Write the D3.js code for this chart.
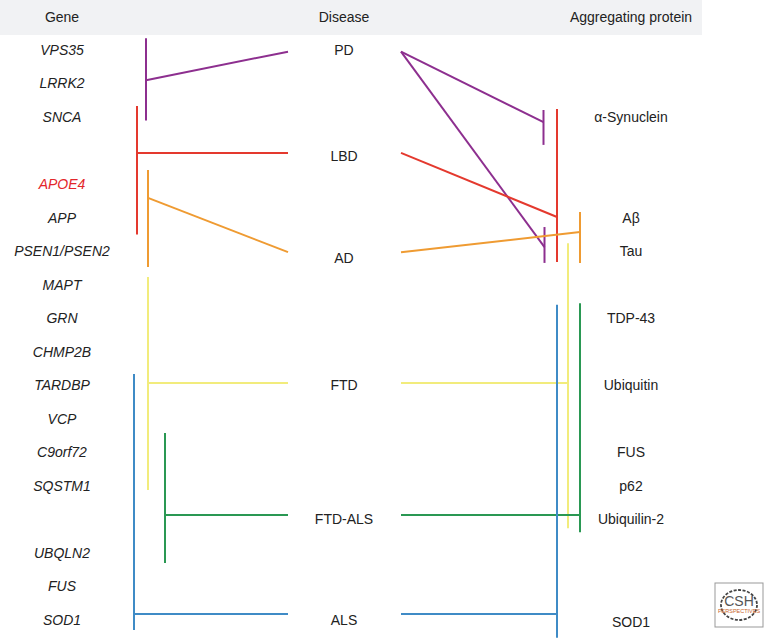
<!DOCTYPE html>
<html>
<head>
<meta charset="utf-8">
<script src="https://cdn.jsdelivr.net/npm/d3@7"></script>
<style>
  body { margin: 0; background: #fff; }
  text { font-family: "Liberation Sans", Arial, sans-serif; fill: #222; }
</style>
</head>
<body>
<div id="chart"></div>
<script>
// rows are in "gene row" units, 0 = VPS35 ... 17 = SOD1
var headers = ["Gene", "Disease", "Aggregating protein"]

var genes = ["VPS35", "LRRK2", "SNCA", "APOE4", "APP", "PSEN1/PSEN2", "MAPT", "GRN",
             "CHMP2B", "TARDBP", "VCP", "C9orf72", "SQSTM1", "UBQLN2", "FUS", "SOD1"]
var geneRows = [0, 1, 2, 4, 5, 6, 7, 8, 9, 10, 11, 12, 13, 15, 16, 17]
var riskGenes = ["APOE4"]

var diseases = ["PD", "LBD", "AD", "FTD", "FTD-ALS", "ALS"]
var diseaseRows = [0, 3.15, 6.2, 10, 14, 17]
var diseaseLinkRows = [0.05, 3.07, 6.03, 9.93, 13.87, 16.82]

var proteins = ["\u03b1-Synuclein", "A\u03b2", "Tau", "TDP-43", "Ubiquitin", "FUS", "p62", "Ubiquilin-2", "SOD1"]
var proteinRows = [2, 5, 6, 8, 10, 12, 13, 14, 17.05]

// gene brackets, one per disease: span of the bar and the row where the link leaves it
var geneSpans = [[-0.35, 2.1], [1.67, 5.5], [3.58, 6.47], [6.77, 13.12], [11.42, 15.3], [9.66, 17.3]]
var geneJoins = [0.9, 3.07, 4.41, 9.93, 13.87, 16.82]

// protein brackets: which disease, span of the bar, row where the link hits it
var protDisease = ["PD", "PD", "LBD", "AD", "FTD", "FTD-ALS", "ALS"]
var protSpans = [[1.79, 2.83], [5.28, 6.35], [1.76, 6.32], [4.83, 6.35], [5.76, 14.26], [7.55, 14.38], [7.6, 17.53]]
var protJoins = [2.15, 5.88, 4.98, 5.43, 9.93, 13.87, 16.82]

var w = 773
var h = 640

var colors = {
  "PD": "#8d2f8f",
  "LBD": "#e4392e",
  "AD": "#ef9b32",
  "FTD": "#f2ec7c",
  "FTD-ALS": "#2a9853",
  "ALS": "#3f8bc6"
}

// x lanes for the vertical bars
var geneLane = { "PD": 146, "LBD": 137, "AD": 148, "FTD": 148, "FTD-ALS": 165, "ALS": 134 }
var protLane = [543.5, 544.5, 557, 580, 568, 580, 557]
var colX = { gene: 62, disease: 344, protein: 631 }
var diseaseLeft = 288
var diseaseRight = 401

var y = d3.scaleLinear()
    .domain([0, 17])
    .range([50, 620])

var svg = d3.select("#chart")
            .append("svg")
            .attr("width", w)
            .attr("height", h)

// header band
svg.append("rect")
   .attr("x", 0)
   .attr("y", 0)
   .attr("width", 702)
   .attr("height", 35)
   .attr("fill", "#f1f2f4")

svg.selectAll("text.header")
   .data(headers)
   .enter()
   .append("text")
   .attr("class", "header")
   .attr("x", function(d, i) { return [colX.gene, colX.disease, colX.protein][i] })
   .attr("y", 22)
   .attr("text-anchor", "middle")
   .attr("font-size", "14px")
   .text(function(d) { return d })

var lines = svg.append("g")
               .attr("fill", "none")
               .attr("stroke-width", 2)

// Gene -> disease brackets
diseases.forEach(function(dis, i) {
  var g = lines.append("g").attr("stroke", colors[dis])
  var lx = geneLane[dis]
  g.append("line")
   .attr("x1", lx).attr("x2", lx)
   .attr("y1", y(geneSpans[i][0])).attr("y2", y(geneSpans[i][1]))
  g.append("line")
   .attr("x1", lx).attr("x2", diseaseLeft)
   .attr("y1", y(geneJoins[i])).attr("y2", y(diseaseLinkRows[i]))
})

// Disease -> protein brackets
protDisease.forEach(function(dis, i) {
  var g = lines.append("g").attr("stroke", colors[dis])
  var lx = protLane[i]
  var di = diseases.indexOf(dis)
  g.append("line")
   .attr("x1", lx).attr("x2", lx)
   .attr("y1", y(protSpans[i][0])).attr("y2", y(protSpans[i][1]))
  g.append("line")
   .attr("x1", diseaseRight).attr("x2", lx)
   .attr("y1", y(diseaseLinkRows[di])).attr("y2", y(protJoins[i]))
})

// Labels
svg.selectAll("text.gene")
   .data(genes)
   .enter()
   .append("text")
   .attr("class", "gene")
   .attr("x", colX.gene)
   .attr("y", function(d, i) { return y(geneRows[i]) })
   .attr("dy", "0.35em")
   .attr("text-anchor", "middle")
   .attr("font-size", "14px")
   .attr("font-style", "italic")
   .style("fill", function(d) { return riskGenes.indexOf(d) >= 0 ? "#e3262b" : "#222" })
   .text(function(d) { return d })

svg.selectAll("text.disease")
   .data(diseases)
   .enter()
   .append("text")
   .attr("class", "disease")
   .attr("x", colX.disease)
   .attr("y", function(d, i) { return y(diseaseRows[i]) })
   .attr("dy", "0.35em")
   .attr("text-anchor", "middle")
   .attr("font-size", "14px")
   .text(function(d) { return d })

svg.selectAll("text.protein")
   .data(proteins)
   .enter()
   .append("text")
   .attr("class", "protein")
   .attr("x", colX.protein)
   .attr("y", function(d, i) { return y(proteinRows[i]) })
   .attr("dy", "0.35em")
   .attr("text-anchor", "middle")
   .attr("font-size", "14px")
   .text(function(d) { return d })

// CSH Perspectives badge
var logo = svg.append("g").attr("transform", "translate(715,583)")
logo.append("rect")
    .attr("width", 48).attr("height", 44)
    .attr("fill", "#fff").attr("stroke", "#999").attr("stroke-width", 1)
logo.append("ellipse")
    .attr("cx", 24).attr("cy", 22).attr("rx", 18).attr("ry", 15)
    .attr("fill", "none").attr("stroke", "#444").attr("stroke-width", 1.8)
    .attr("stroke-dasharray", "3,1.5")
logo.append("text")
    .attr("x", 24).attr("y", 23)
    .attr("text-anchor", "middle")
    .attr("font-size", "14px")
    .style("fill", "#555")
    .text("CSH")
logo.append("text")
    .attr("x", 24).attr("y", 30)
    .attr("text-anchor", "middle")
    .attr("font-size", "5.5px")
    .style("fill", "#c8642a")
    .text("PERSPECTIVES")
</script>
</body>
</html>
